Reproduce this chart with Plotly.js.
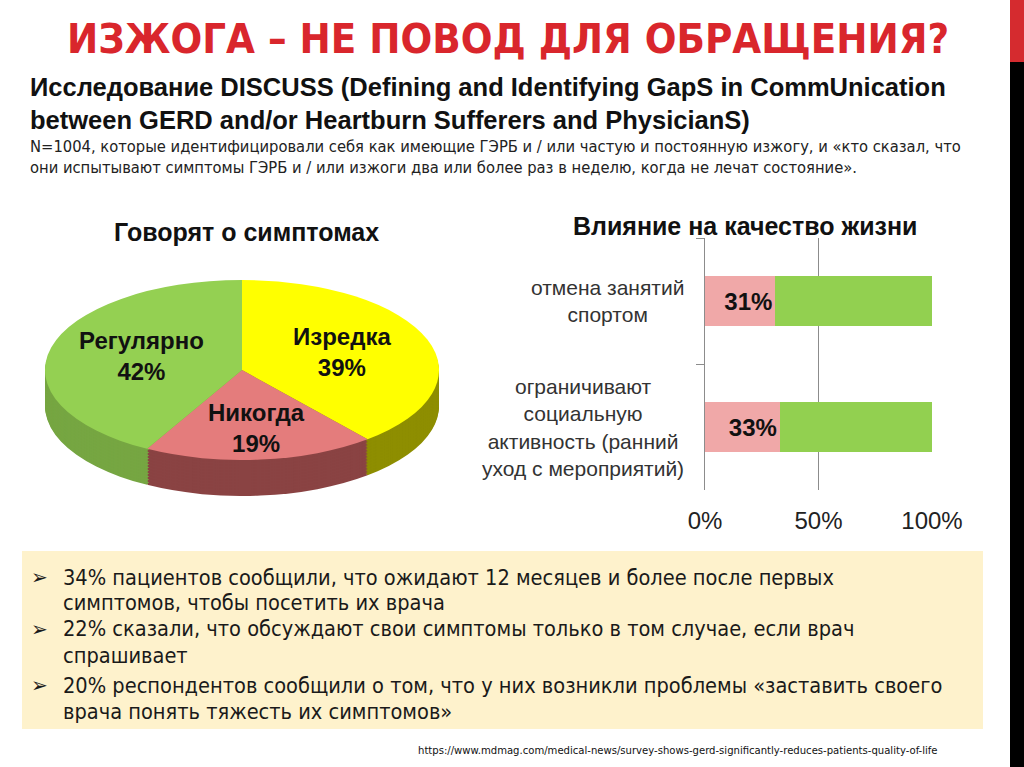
<!DOCTYPE html>
<html>
<head>
<meta charset="utf-8">
<script src="https://cdn.plot.ly/plotly-3.0.1.min.js"></script>
<style>
  html, body { margin: 0; padding: 0; background: #ffffff; width: 1024px; height: 767px; overflow: hidden; }
  #main { position: absolute; left: 0; top: 0; width: 1024px; height: 767px; z-index: 100; }
  .pie { position: absolute; width: 180px; height: 180px; transform-origin: 50% 50%; }
</style>
</head>
<body>
<div id="pies"></div>
<div id="main"></div>
<script>
// ---------- data ----------
const pieLabels = ['Изредка', 'Никогда', 'Регулярно'];
const pieValues = [39, 19, 42];
const pieTopColors = ['#FFFF00', '#E47C7C', '#94D052'];
const pieSideColors = ['#8E8E00', '#8A4343', '#76A642'];

const barCategories = ['отмена занятий<br>спортом', 'ограничивают<br>социальную<br>активность (ранний<br>уход с мероприятий)'];
const barAffected = [0.31, 0.33];
const barRest = [0.69, 0.67];
const barAffectedLabels = ['31%', '33%'];
const xTickVals = [0, 0.5, 1];
const xTickText = ['0%', '50%', '100%'];

const bulletLines = [
  '34% пациентов сообщили, что ожидают 12 месяцев и более после первых',
  'симптомов, чтобы посетить их врача',
  '22% сказали, что обсуждают свои симптомы только в том случае, если врач',
  'спрашивает',
  '20% респондентов сообщили о том, что у них возникли проблемы «заставить своего',
  'врача понять тяжесть их симптомов»'
];
const bulletStarts = [0, 2, 4];

// ---------- helpers (pixel -> paper) ----------
const W = 1024, H = 767;
const px = x => x / W;
const py = y => 1 - y / H;

// ---------- pseudo-3D pie (stacked pies, stretched horizontally) ----------
const pieCx = 242, pieCy = 370, pieRx = 197, pieRy = 90, depth = 36;
const piesEl = document.getElementById('pies');
const offsets = [];
for (let o = depth; o > 0; o -= 1.5) offsets.push(o);
offsets.push(0);
offsets.forEach((off, i) => {
  const d = document.createElement('div');
  d.className = 'pie';
  d.style.left = (pieCx - pieRy) + 'px';
  d.style.top = (pieCy - pieRy + off) + 'px';
  d.style.transform = 'scale(' + (pieRx / pieRy) + ',1)';
  d.style.zIndex = String(i + 1);
  piesEl.appendChild(d);
  const isTop = off === 0;
  Plotly.newPlot(d, [{
    type: 'pie',
    labels: pieLabels,
    values: pieValues,
    sort: false,
    direction: 'clockwise',
    rotation: 0,
    textinfo: 'none',
    hoverinfo: 'none',
    marker: { colors: isTop ? pieTopColors : pieSideColors, line: { width: 0 } }
  }], {
    width: 180, height: 180,
    margin: { l: 0, r: 0, t: 0, b: 0 },
    showlegend: false,
    paper_bgcolor: 'rgba(0,0,0,0)',
    plot_bgcolor: 'rgba(0,0,0,0)'
  }, { displayModeBar: false, staticPlot: true });
});

// ---------- main figure ----------
const fontMain = 'Liberation Sans, Arial, sans-serif';
const fontNarrow = 'DejaVu Sans Condensed, Liberation Sans, sans-serif';

const plotL = 705, plotR = 932, plotT = 238, plotB = 490;

const traces = [
  {
    type: 'bar', orientation: 'h',
    y: barCategories, x: barAffected,
    marker: { color: '#F0A8A8' },
    text: barAffectedLabels, textposition: 'inside', insidetextanchor: 'end',
    textfont: { family: fontMain, size: 24, color: '#111111', weight: 'bold' },
    hoverinfo: 'none', cliponaxis: false
  },
  {
    type: 'bar', orientation: 'h',
    y: barCategories, x: barRest,
    marker: { color: '#92D050' },
    hoverinfo: 'none'
  }
];

const bold = (size, color) => ({ family: fontMain, size: size, color: color || '#111111', weight: 'bold' });
const bulletLineY = [577, 602.5, 628.5, 655, 685, 711];

const annotations = [
  { text: 'ИЗЖОГА – НЕ ПОВОД ДЛЯ ОБРАЩЕНИЯ?', x: px(508), y: py(39), xanchor: 'center', yanchor: 'middle',
    font: { family: fontNarrow, size: 41.5, color: '#D9262C', weight: 'bold' } },
  { text: 'Исследование DISCUSS (Defining and Identifying GapS in CommUnication<br>between GERD and/or Heartburn Sufferers and PhysicianS)',
    x: px(28), y: py(103.5), xanchor: 'left', yanchor: 'middle', align: 'left',
    font: bold(25.5) },
  { text: 'N=1004, которые идентифицировали себя как имеющие ГЭРБ и / или частую и постоянную изжогу, и «кто сказал, что<br>они испытывают симптомы ГЭРБ и / или изжоги два или более раз в неделю, когда не лечат состояние».',
    x: px(28), y: py(157), xanchor: 'left', yanchor: 'middle', align: 'left',
    font: { family: fontNarrow, size: 16.4, color: '#222222' } },
  { text: 'Говорят о симптомах', x: px(246), y: py(232), xanchor: 'center', yanchor: 'middle', font: bold(25) },
  { text: 'Влияние на качество жизни', x: px(745), y: py(226), xanchor: 'center', yanchor: 'middle', font: bold(25) },
  // pie labels
  { text: pieLabels[2] + '<br>' + pieValues[2] + '%', x: px(141), y: py(356), xanchor: 'center', yanchor: 'middle', font: bold(24) },
  { text: pieLabels[0] + '<br>' + pieValues[0] + '%', x: px(342), y: py(352), xanchor: 'center', yanchor: 'middle', font: bold(24) },
  { text: pieLabels[1] + '<br>' + pieValues[1] + '%', x: px(256), y: py(428), xanchor: 'center', yanchor: 'middle', font: bold(24) },
  // bar category labels
  ...barCategories.map(c => ({
    text: c, xref: 'paper', yref: 'y', x: px(686), y: c, xanchor: 'right', yanchor: 'middle', align: 'center',
    font: { family: fontMain, size: 21, color: '#333333' }
  })),
  // bullet text lines
  ...bulletLines.map((t, i) => ({
    text: t, x: px(62), y: py(bulletLineY[i]), xanchor: 'left', yanchor: 'middle', align: 'left',
    borderpad: 0,
    font: { family: fontNarrow, size: 21.6, color: '#1a1a1a' }
  })),
  // bullet markers
  ...bulletStarts.map(i => ({
    text: '➢', x: px(30), y: py(bulletLineY[i]), xanchor: 'left', yanchor: 'middle', borderpad: 0,
    font: { family: 'DejaVu Sans, sans-serif', size: 20, color: '#1a1a1a' }
  })),
  { text: 'https://www.mdmag.com/medical-news/survey-shows-gerd-significantly-reduces-patients-quality-of-life',
    x: px(940), y: py(750), xanchor: 'right', yanchor: 'middle',
    font: { family: fontNarrow, size: 11.2, color: '#111111' } }
].map(a => Object.assign({ xref: 'paper', yref: 'paper', showarrow: false }, a));

const shapes = [
  { type: 'rect', xref: 'paper', yref: 'paper', x0: px(22), x1: px(983), y0: py(551), y1: py(729),
    fillcolor: '#FEF2CC', line: { width: 0 }, layer: 'below' },
  { type: 'rect', xref: 'paper', yref: 'paper', x0: px(1010), x1: px(1024), y0: py(0), y1: py(62),
    fillcolor: '#D52B2F', line: { width: 0 }, layer: 'below' },
  { type: 'rect', xref: 'paper', yref: 'paper', x0: px(1010), x1: px(1024), y0: py(62), y1: py(767),
    fillcolor: '#000000', line: { width: 0 }, layer: 'below' }
];

const layout = {
  width: W, height: H,
  margin: { l: 0, r: 0, t: 0, b: 0 },
  paper_bgcolor: 'rgba(0,0,0,0)',
  plot_bgcolor: 'rgba(0,0,0,0)',
  showlegend: false,
  barmode: 'stack',
  bargap: 0.6,
  xaxis: {
    domain: [px(plotL), px(plotR)],
    range: [0, 1], fixedrange: true,
    tickvals: xTickVals, ticktext: xTickText,
    showgrid: true, gridcolor: '#8c8c8c', gridwidth: 1,
    zeroline: false, showline: false, ticks: '',
    tickfont: { family: fontMain, size: 24, color: '#222222' },
    ticklabelstandoff: 14
  },
  yaxis: {
    domain: [py(plotB), py(plotT)],
    type: 'category', autorange: 'reversed',
    tickson: 'boundaries', ticks: 'outside', ticklen: 8, tickcolor: '#8c8c8c',
    showline: true, linecolor: '#8c8c8c', linewidth: 1,
    showgrid: false, zeroline: false, showticklabels: false
  },
  annotations: annotations,
  shapes: shapes
};

Plotly.newPlot('main', traces, layout, { displayModeBar: false, staticPlot: true });
</script>
</body>
</html>
